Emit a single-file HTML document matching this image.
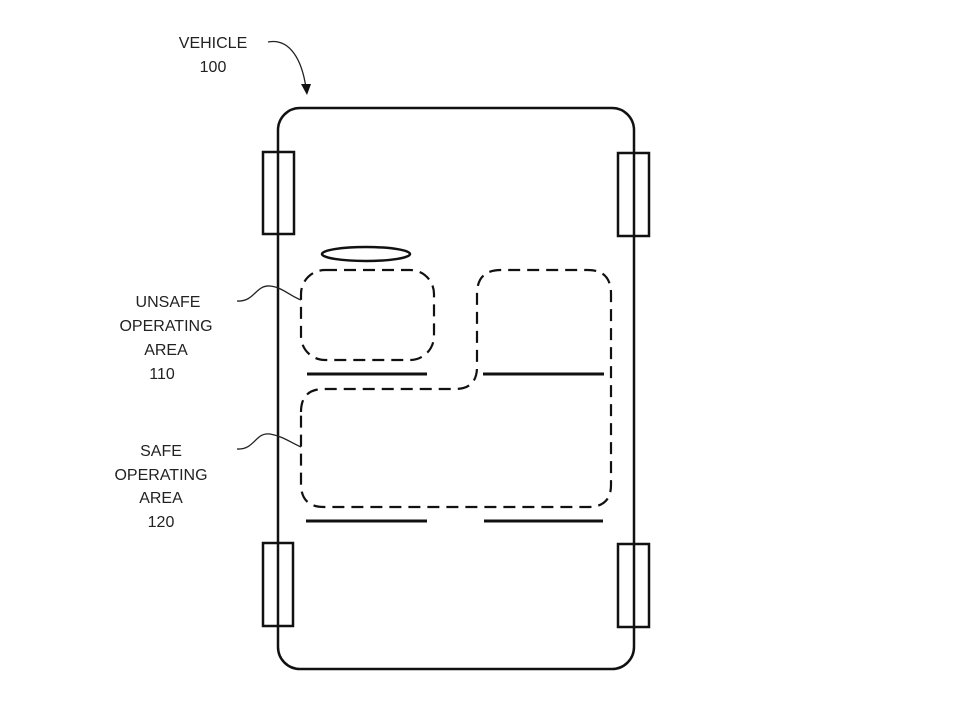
<!DOCTYPE html>
<html><head><meta charset="utf-8"><style>
html,body{margin:0;padding:0;background:#fff;}
svg{display:block;}
text{font-family:"Liberation Sans",Arial,sans-serif;font-size:16px;fill:#222;text-anchor:middle;}
</style></head><body>
<svg width="957" height="718" viewBox="0 0 957 718" xmlns="http://www.w3.org/2000/svg">
<g fill="none" stroke="#111" stroke-width="2.5">
<rect x="278" y="108" width="356" height="561" rx="22"/>
<rect x="263" y="152" width="31" height="82"/>
<rect x="263" y="543" width="30" height="83"/>
<rect x="618" y="153" width="31" height="83"/>
<rect x="618" y="544" width="31" height="83"/>
<ellipse cx="366" cy="254" rx="44" ry="7"/>
<line x1="307" y1="374" x2="427" y2="374" stroke-width="3"/>
<line x1="483" y1="374" x2="604" y2="374" stroke-width="3"/>
<line x1="306" y1="521" x2="427" y2="521" stroke-width="3"/>
<line x1="484" y1="521" x2="603" y2="521" stroke-width="3"/>
</g>
<g fill="none" stroke="#111" stroke-width="2.2" stroke-dasharray="12,7">
<rect x="301" y="270" width="133" height="90" rx="24"/>
<path d="M301 412 Q301 389 324 389 L455 389 Q477 389 477 367 L477 294 Q477 270 501 270 L588 270 Q611 270 611 294 L611 485 Q611 507 588 507 L324 507 Q301 507 301 484 Z"/>
</g>
<g fill="none" stroke="#222" stroke-width="1.3">
<path d="M237 301 C255 302 255 285 270 286 C282 287 290 296 301 300"/>
<path d="M237 449 C255 450 255 432 270 434 C282 436 290 442 301 447"/>
<path d="M268 42 C290 38 302 60 306 88"/>
</g>
<path d="M301 84 L311 84 L307 95 Z" fill="#111"/>
<text x="213" y="48">VEHICLE</text>
<text x="213" y="72">100</text>
<text x="168" y="307">UNSAFE</text>
<text x="166" y="331">OPERATING</text>
<text x="166" y="355">AREA</text>
<text x="162" y="379">110</text>
<text x="161" y="456">SAFE</text>
<text x="161" y="480">OPERATING</text>
<text x="161" y="503">AREA</text>
<text x="161" y="527">120</text>
</svg>
</body></html>
